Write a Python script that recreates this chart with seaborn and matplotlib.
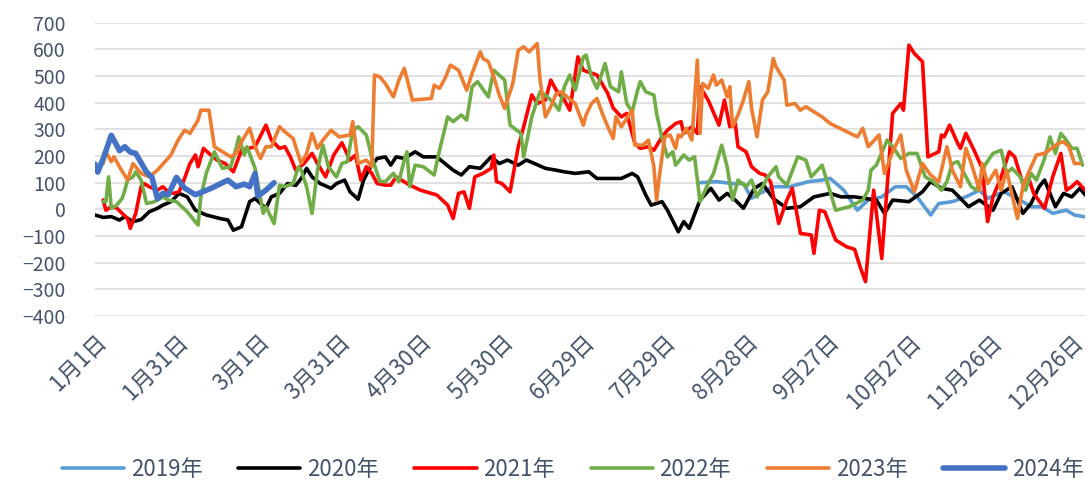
import matplotlib
matplotlib.use("Agg")
import matplotlib.pyplot as plt
import seaborn as sns

# day of year (leap-year axis, 0 = 1月1日) and values
days_2019 = [223, 229, 235, 239, 242, 245, 250, 256, 263, 268, 271, 276, 281, 285, 290, 295,
             299, 303, 308, 311, 316, 321, 326, 329, 335, 340, 345, 349, 353, 358, 361, 365]
vals_2019 = [100, 104, 97, 97, 42, 60, 85, 85, 104, 110, 116, 72, -3, 35, 47, 85,
             85, 47, -21, 22, 29, 47, 72, 41, 66, 41, 10, 10, -15, -3, -21, -28]

days_2020 = [0, 3, 6, 9, 11, 14, 17, 20, 23, 25, 28, 31, 34, 37, 41, 46, 49, 51, 54, 57,
             59, 61, 63, 65, 68, 71, 74, 76, 78, 80, 83, 87, 89, 92, 94, 97, 99, 101, 104, 107,
             109, 111, 114, 118, 121, 126, 129, 132, 135, 138, 142, 146, 149, 152, 156, 159, 162, 166, 170, 173,
             177, 182, 185, 190, 194, 198, 200, 203, 205, 209, 211, 215, 217, 219, 223, 227, 230, 233, 236, 239,
             243, 246, 250, 255, 260, 265, 271, 275, 280, 284, 288, 291, 294, 300, 305, 308, 312, 316, 319, 322,
             326, 331, 334, 338, 342, 345, 348, 350, 354, 357, 360, 363, 365]
vals_2020 = [-21, -30, -27, -40, -27, -46, -38, -9, 4, 16, 29, 60, 47, -3, -21, -34, -40, -78, -65, 29,
             41, 22, 4, 47, 60, 97, 90, 116, 154, 122, 97, 79, 97, 110, 66, 38, 110, 150, 191, 197,
             166, 197, 191, 216, 197, 197, 172, 147, 129, 160, 154, 197, 172, 185, 166, 185, 172, 154, 147, 141,
             135, 141, 116, 116, 116, 135, 122, 54, 16, 29, -3, -84, -46, -71, 35, 79, 35, 60, 35, 4,
             79, 97, 41, 4, 10, 47, 60, 47, 47, 41, 35, -15, 35, 29, 66, 104, 79, 72, 41, 10,
             35, -3, 60, 85, -15, 22, 85, 110, 10, 60, 47, 79, 54]

days_2021 = [3, 4, 6, 8, 10, 12, 13, 15, 17, 18, 20, 23, 25, 27, 29, 31, 33, 35, 37, 38,
             40, 42, 45, 48, 51, 54, 59, 63, 65, 68, 70, 72, 74, 77, 80, 82, 85, 88, 91, 94,
             96, 98, 100, 102, 104, 107, 109, 111, 116, 120, 126, 130, 132, 134, 136, 138, 140, 143, 146, 147,
             148, 150, 153, 156, 158, 161, 163, 166, 168, 170, 173, 175, 178, 180, 185, 189, 191, 194, 196, 199,
             201, 204, 206, 209, 211, 214, 216, 217, 220, 222, 223, 226, 230, 232, 234, 236, 237, 240, 242, 245,
             247, 249, 252, 255, 257, 260, 264, 265, 267, 269, 273, 277, 280, 282, 284, 287, 290, 294, 297, 298,
             300, 302, 305, 307, 311, 312, 313, 315, 318, 319, 321, 324, 327, 329, 331, 334, 337, 339, 342, 344,
             346, 350, 353, 356, 358, 360, 362, 365]
vals_2021 = [35, -3, 10, 5, -15, -34, -71, -15, 85, 97, 85, 72, 85, 66, 60, 66, 116, 172, 204, 160,
             229, 210, 185, 172, 141, 222, 235, 316, 260, 229, 235, 197, 147, 172, 210, 172, 122, 204, 250, 185,
             204, 110, 160, 135, 97, 91, 91, 122, 91, 72, 54, 16, -34, 60, 66, 4, 122, 135, 154, 204,
             104, 97, 66, 235, 310, 429, 397, 410, 485, 447, 410, 372, 572, 522, 504, 435, 380, 347, 360, 247,
             229, 235, 222, 272, 297, 322, 329, 285, 310, 285, 460, 410, 316, 410, 310, 322, 235, 216, 160, 135,
             129, 104, -53, 35, 79, -90, -96, -165, -3, -9, -115, -140, -150, -215, -271, 72, -184, 360, 397, 372,
             616, 585, 554, 197, 216, 279, 272, 316, 247, 229, 285, 222, 154, -46, 47, 122, 216, 197, 97, 122,
             60, 4, 122, 210, 72, 85, 104, 72]

days_2022 = [3, 4, 5, 6, 8, 10, 11, 12, 14, 15, 17, 19, 22, 25, 27, 30, 34, 38, 39, 41,
             44, 47, 50, 52, 53, 55, 56, 59, 62, 63, 66, 68, 70, 73, 75, 76, 78, 80, 82, 84,
             86, 89, 91, 93, 95, 97, 100, 102, 105, 107, 110, 112, 114, 115, 116, 118, 121, 125, 127, 130,
             132, 135, 137, 139, 141, 145, 147, 151, 153, 157, 158, 161, 164, 166, 169, 171, 173, 175, 177, 180,
             181, 183, 185, 188, 190, 193, 194, 196, 198, 200, 201, 203, 206, 207, 209, 211, 213, 214, 217, 219,
             221, 223, 226, 228, 231, 233, 235, 237, 240, 242, 244, 248, 251, 252, 255, 259, 262, 264, 268, 273,
             278, 283, 285, 286, 288, 292, 294, 297, 300, 303, 306, 309, 312, 314, 316, 318, 323, 325, 328, 331,
             334, 336, 338, 341, 343, 345, 347, 350, 352, 354, 356, 358, 360, 362, 364]
vals_2022 = [29, 29, 122, 4, 16, 41, 72, 110, 122, 141, 110, 22, 29, 47, 35, 29, -9, -59, 47, 135,
             216, 154, 160, 229, 272, 204, 235, 154, -15, 10, -53, 91, 85, 97, 160, 147, 85, -15, 147, 241,
             160, 122, 172, 179, 297, 310, 279, 197, 105, 104, 135, 104, 185, 216, 85, 166, 160, 129, 222, 347,
             329, 354, 335, 460, 479, 422, 522, 485, 316, 285, 197, 347, 441, 429, 400, 372, 460, 504, 447, 572,
             579, 497, 454, 547, 460, 441, 516, 397, 366, 447, 479, 441, 429, 360, 266, 197, 216, 166, 204, 185,
             197, 29, 97, 135, 241, 160, 35, 110, 85, 110, 47, 122, 160, 122, 91, 197, 185, 122, 166, -3,
             10, 35, 72, 147, 166, 260, 235, 191, 210, 210, 122, 104, 72, 104, 172, 179, 85, 72, 166, 210,
             222, 135, 154, 122, 72, 135, 110, 191, 272, 210, 285, 260, 229, 229, 166]

days_2023 = [3, 4, 6, 7, 9, 12, 14, 17, 20, 23, 28, 30, 31, 33, 35, 38, 39, 42, 44, 47,
             50, 52, 54, 57, 59, 61, 63, 65, 68, 70, 73, 76, 78, 80, 82, 84, 87, 90, 94, 95,
             97, 100, 102, 103, 105, 107, 110, 112, 114, 117, 124, 125, 127, 129, 131, 134, 137, 139, 142, 143,
             145, 147, 149, 151, 154, 156, 158, 160, 163, 164, 166, 168, 170, 172, 174, 177, 180, 181, 183, 185,
             187, 189, 191, 192, 194, 198, 199, 202, 204, 206, 207, 208, 210, 212, 214, 215, 216, 218, 220, 222,
             223, 224, 226, 228, 229, 231, 233, 234, 235, 237, 239, 241, 242, 244, 246, 248, 250, 251, 254, 255,
             258, 260, 262, 265, 268, 271, 281, 283, 285, 289, 291, 294, 297, 299, 302, 305, 308, 311, 314, 316,
             319, 321, 323, 326, 327, 329, 332, 334, 336, 340, 342, 344, 347, 350, 355, 357, 359, 361, 363]
vals_2023 = [172, 216, 179, 197, 160, 110, 172, 135, 122, 147, 204, 247, 266, 297, 285, 335, 372, 372, 235, 216,
             197, 210, 254, 304, 235, 191, 235, 235, 310, 291, 266, 172, 210, 285, 229, 260, 297, 272, 279, 329,
             172, 185, 160, 504, 497, 472, 422, 485, 529, 410, 416, 466, 454, 491, 541, 522, 447, 510, 591, 566,
             554, 497, 429, 379, 472, 597, 610, 591, 622, 491, 347, 385, 435, 441, 422, 397, 316, 354, 397, 416,
             360, 310, 266, 347, 310, 372, 241, 241, 260, 160, 35, 122, 272, 279, 229, 279, 272, 304, 260, 560,
             285, 472, 454, 504, 466, 485, 422, 460, 310, 354, 410, 479, 379, 272, 410, 441, 566, 535, 485, 391,
             397, 372, 385, 366, 347, 322, 272, 304, 235, 279, 135, 216, 279, 147, 66, 172, 129, 104, 235, 147,
             85, 229, 172, 72, 172, 97, 147, 72, 147, -34, 85, 135, 204, 210, 247, 254, 235, 172, 172]

days_2024 = [0, 1, 3, 6, 8, 9, 11, 13, 15, 17, 19, 21, 23, 25, 27, 30, 33, 37, 43, 49,
             52, 55, 57, 59, 60, 63, 66]
vals_2024 = [170, 140, 190, 278, 240, 220, 235, 215, 210, 175, 140, 120, 40, 60, 55, 120, 80, 55, 80, 110,
             85, 95, 85, 135, 50, 72, 100]

tick_days = [0, 30, 60, 90, 120, 150, 180, 210, 240, 270, 300, 330, 360]
tick_labels = ['1月1日', '1月31日', '3月1日', '3月31日', '4月30日', '5月30日', '6月29日',
               '7月29日', '8月28日', '9月27日', '10月27日', '11月26日', '12月26日']

sns.set_style('white')
plt.rcParams['font.family'] = ['Noto Sans CJK SC', 'DejaVu Sans']
text_color = '#44546A'

fig = plt.figure(figsize=(10.87, 4.84), dpi=100)
ax = fig.add_axes([0.0874, 0.347, 0.911, 0.606])

series = [
    ('2019年', days_2019, vals_2019, '#5B9BD5', 2.6),
    ('2020年', days_2020, vals_2020, '#000000', 2.6),
    ('2021年', days_2021, vals_2021, '#FF0000', 2.6),
    ('2022年', days_2022, vals_2022, '#70AD47', 2.6),
    ('2023年', days_2023, vals_2023, '#ED7D31', 2.6),
    ('2024年', days_2024, vals_2024, '#4472C4', 4.0),
]
for label, d, v, c, lw in series:
    sns.lineplot(x=d, y=v, ax=ax, color=c, linewidth=lw, label=label,
                 estimator=None, sort=False)

ax.set_xlim(0, 365)
ax.set_ylim(-400, 700)
ax.set_yticks(range(-400, 701, 100))
ax.set_xticks(tick_days)
ax.set_xticklabels(tick_labels, rotation=45, ha='right', rotation_mode='anchor')
ax.grid(axis='y', color='#D9D9D9', linewidth=1.1)
ax.grid(axis='x', visible=False)
ax.set_axisbelow(True)
for s in ax.spines.values():
    s.set_visible(False)
ax.tick_params(axis='y', length=0, pad=21, labelsize=14, labelcolor=text_color)
ax.tick_params(axis='x', length=0, pad=10, labelsize=16, labelcolor=text_color)
ax.set_xlabel('')
ax.set_ylabel('')

handles, labels = ax.get_legend_handles_labels()
ax.get_legend().remove()
leg = fig.legend(handles, labels, loc='lower center', bbox_to_anchor=(0.527, -0.035), ncol=6,
                 frameon=False, fontsize=16, handlelength=2.8, columnspacing=1.6, handletextpad=0.3)
for t in leg.get_texts():
    t.set_color(text_color)

fig.savefig('out.png', dpi=100)
